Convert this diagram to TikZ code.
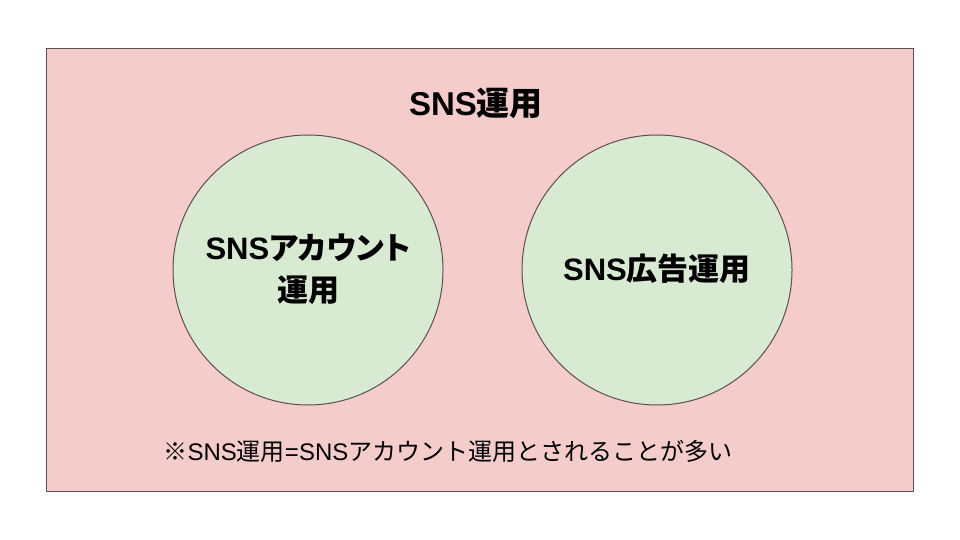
\documentclass[tikz,border=0pt]{standalone}
\usepackage{fontspec}
\setmainfont{Noto Sans CJK JP}
\newfontfamily\latf{Liberation Sans}
\newfontfamily\jpp[RawFeature=+palt]{Noto Sans CJK JP}
\newcommand{\lt}[1]{{\latf #1}}
\definecolor{pinkfill}{HTML}{F4CCCC}
\definecolor{greenfill}{HTML}{D9EAD3}
\definecolor{edge}{HTML}{5B5050}
\begin{document}
\begin{tikzpicture}[x=1pt,y=-1pt,
  circ/.style={circle,draw=edge,fill=greenfill,line width=1pt,minimum size=270pt,inner sep=0pt},
  lbl/.style={font=\fontsize{31}{42}\selectfont\bfseries,align=center}]
\useasboundingbox (0,0) rectangle (960,540);
\fill[white] (0,0) rectangle (960,540);
\node[draw=edge,fill=pinkfill,line width=1pt,minimum width=867pt,minimum height=443pt,inner sep=0pt,anchor=north west] (frame) at (46,48) {};
\node[lbl,font=\fontsize{33}{42}\selectfont\bfseries] (title) at (476,103) {\lt{SNS}運用};
\node[circ] (c1) at (308,270) {};
\node[circ] (c2) at (657,270) {};
\node[lbl] (t1) at (308,269) {\lt{SNS}{\jpp アカウント}\\運用};
\node[lbl] (t2) at (657,269) {\lt{SNS}広告運用};
\node[font=\fontsize{24}{28}\selectfont] (note) at (448,451) {※\lt{SNS}運用\lt{=SNS}アカウント運用とされることが多い};
\end{tikzpicture}
\end{document}
